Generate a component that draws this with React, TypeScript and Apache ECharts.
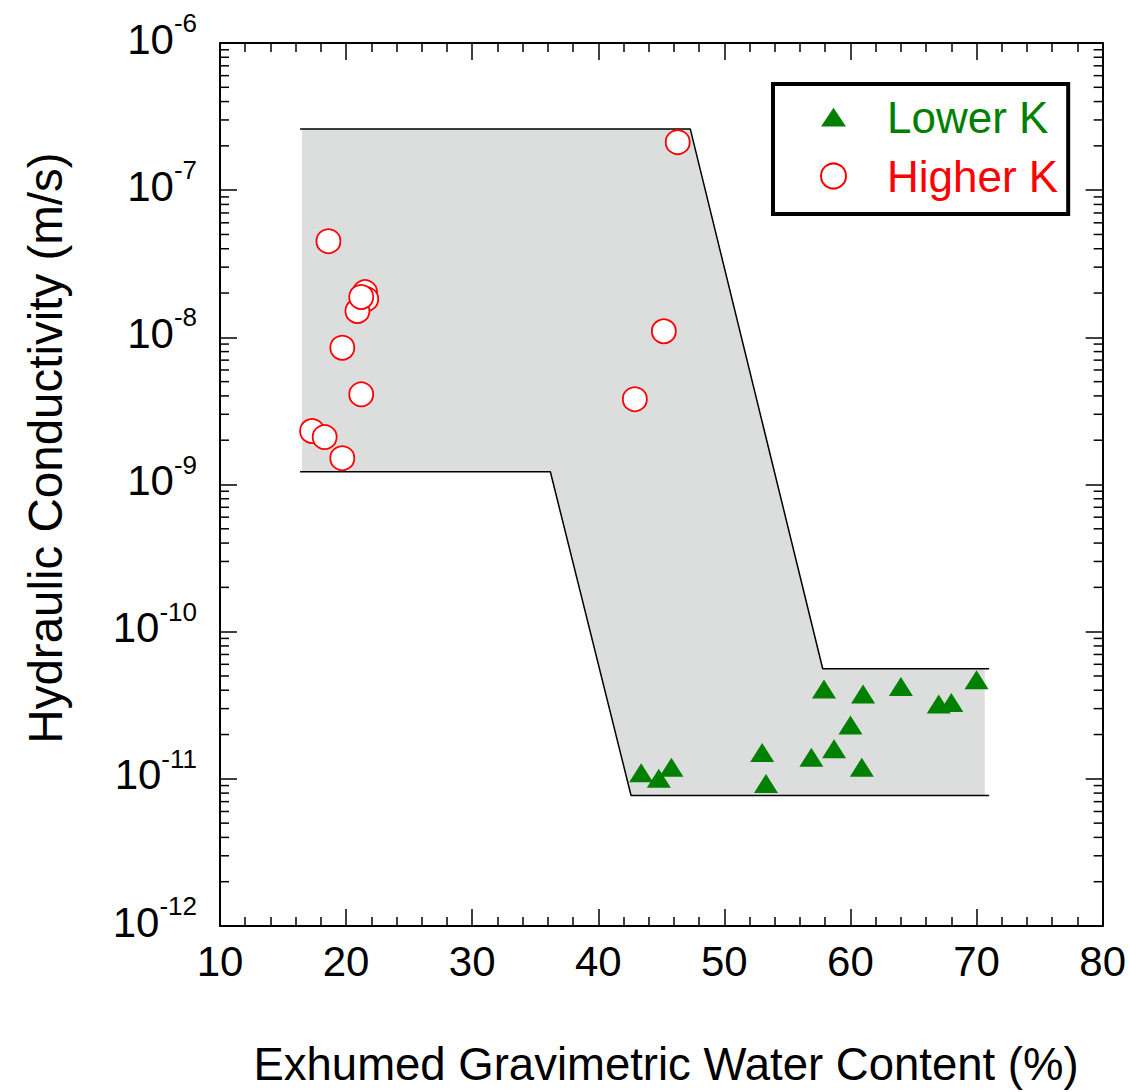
import { useEffect, useRef } from "react";
import * as echarts from "echarts";

// Lower-K specimens: water content (%) and hydraulic conductivity (m/s)
const waterLowerK = [43.4, 44.8, 45.8, 53.0, 53.3, 56.9, 58.7, 57.9, 60.0, 61.0, 60.9, 64.0, 67.0, 68.0, 70.0];
const condLowerK = [1.1e-11, 1.01e-11, 1.2e-11, 1.51e-11, 9.3e-12, 1.4e-11, 1.6e-11, 4.07e-11, 2.32e-11, 3.77e-11, 1.2e-11, 4.24e-11, 3.23e-11, 3.3e-11, 4.71e-11];

// Higher-K specimens
const waterHigherK = [18.6, 21.5, 21.6, 20.9, 21.2, 19.7, 21.2, 17.3, 18.3, 19.7, 42.9, 45.2, 46.3];
const condHigherK = [4.5e-8, 2.03e-8, 1.82e-8, 1.51e-8, 1.88e-8, 8.5e-9, 4.1e-9, 2.31e-9, 2.1e-9, 1.51e-9, 3.8e-9, 1.1e-8, 2.12e-7];

// Envelope boundaries
const upperEdgeW = [16.35, 47.3, 57.8, 71.0];
const upperEdgeK = [2.6e-7, 2.6e-7, 5.6e-11, 5.6e-11];
const lowerEdgeW = [16.35, 36.2, 42.6, 71.0];
const lowerEdgeK = [1.22e-9, 1.22e-9, 7.7e-12, 7.7e-12];

// Shaded band (outline of the envelope)
const bandW = [16.5, 47.3, 57.8, 70.65, 70.65, 42.6, 36.2, 16.5];
const bandK = [2.6e-7, 2.6e-7, 5.6e-11, 5.6e-11, 7.7e-12, 7.7e-12, 1.22e-9, 1.22e-9];

// Axis ranges and minor log ticks
const xMin = 10;
const xMax = 80;
const xStep = 10;
const kMin = 1e-12;
const kMax = 1e-6;
const minorDecades = [-12, -11, -10, -9, -8, -7];
const minorMultipliers = [2, 3, 4, 5, 6, 7, 8, 9];

const FONT = '"Liberation Sans", Arial, Helvetica, sans-serif';
const BLACK = "#000";

const minorValues: number[] = [];
minorDecades.forEach((e) => minorMultipliers.forEach((m) => minorValues.push(m * Math.pow(10, e))));

function xAxisCfg(position: "bottom" | "top", showLabels: boolean) {
  return {
    type: "value",
    position,
    min: xMin,
    max: xMax,
    interval: xStep,
    axisLine: { show: true, onZero: false, lineStyle: { color: BLACK, width: 2 } },
    axisTick: { show: true, inside: true, length: 17, lineStyle: { color: BLACK, width: 1.5 } },
    minorTick: { show: true, splitNumber: 5, length: 9, lineStyle: { color: BLACK, width: 1.5 } },
    splitLine: { show: false },
    minorSplitLine: { show: false },
    axisLabel: {
      show: showLabels,
      fontSize: 42,
      lineHeight: 48,
      color: BLACK,
      fontFamily: FONT,
      margin: 11,
    },
  };
}

function yAxisCfg(position: "left" | "right", showLabels: boolean) {
  return {
    type: "log",
    logBase: 10,
    position,
    min: kMin,
    max: kMax,
    splitNumber: 6,
    axisLine: { show: true, onZero: false, lineStyle: { color: BLACK, width: 2 } },
    axisTick: { show: true, inside: true, length: 17, lineStyle: { color: BLACK, width: 1.5 } },
    splitLine: { show: false },
    axisLabel: {
      show: showLabels,
      margin: 23,
      color: BLACK,
      fontFamily: FONT,
      padding: [0, 0, 8, 0],
      formatter: (v: number) => `{b|10}{s|${Math.round(Math.log10(v))}}`,
      rich: {
        b: { fontSize: 42, lineHeight: 46, color: BLACK, fontFamily: FONT },
        // exponent raised above the base by bottom padding
        s: { fontSize: 26, lineHeight: 46, padding: [0, 0, 32, 0], color: BLACK, fontFamily: FONT },
      },
    },
  };
}

export default function App() {
  const ref = useRef<HTMLDivElement>(null);

  useEffect(() => {
    if (!ref.current) return;
    const chart = echarts.init(ref.current, undefined, { renderer: "svg" });

    chart.setOption({
      animation: false,
      backgroundColor: "#fff",
      grid: { left: 220, right: 25, top: 43, bottom: 166 },
      xAxis: [xAxisCfg("bottom", true), xAxisCfg("top", false)],
      yAxis: [yAxisCfg("left", true), yAxisCfg("right", false)],
      legend: {
        orient: "vertical",
        left: 773,
        top: 84,
        padding: [11, 10, 16, 47],
        itemGap: 15,
        itemWidth: 25,
        itemHeight: 25,
        borderColor: BLACK,
        borderWidth: 4,
        backgroundColor: "#fff",
        selectedMode: false,
        textStyle: { fontSize: 44, lineHeight: 44, fontFamily: FONT, padding: [0, 0, 0, 36] },
        data: [
          { name: "Lower K", icon: "path://M12,0L24,18L0,18Z", textStyle: { color: "#008000" } },
          { name: "Higher K", icon: "circle", textStyle: { color: "#ff0000" } },
        ],
      },
      graphic: [
        {
          type: "text",
          x: 45,
          y: 448,
          rotation: Math.PI / 2,
          style: {
            text: "Hydraulic Conductivity (m/s)",
            fontSize: 47.5,
            fontFamily: FONT,
            fill: BLACK,
            textAlign: "center",
            textVerticalAlign: "middle",
          },
        },
        {
          type: "text",
          x: 666,
          y: 1064,
          style: {
            text: "Exhumed Gravimetric Water Content (%)",
            fontSize: 45.5,
            fontFamily: FONT,
            fill: BLACK,
            textAlign: "center",
            textVerticalAlign: "middle",
          },
        },
      ],
      series: [
        {
          type: "custom",
          name: "band",
          z: 1,
          silent: true,
          data: [[bandW[0], bandK[0]]],
          renderItem: (_params: any, api: any) => ({
            type: "polygon",
            shape: { points: bandW.map((w, i) => api.coord([w, bandK[i]])) },
            style: { fill: "#dcdddd" },
          }),
        },
        {
          type: "line",
          name: "upper edge",
          z: 3,
          silent: true,
          showSymbol: false,
          symbol: "none",
          data: upperEdgeW.map((w, i) => [w, upperEdgeK[i]]),
          lineStyle: { color: BLACK, width: 1.5 },
        },
        {
          type: "line",
          name: "lower edge",
          z: 3,
          silent: true,
          showSymbol: false,
          symbol: "none",
          data: lowerEdgeW.map((w, i) => [w, lowerEdgeK[i]]),
          lineStyle: { color: BLACK, width: 1.5 },
        },
        {
          type: "custom",
          name: "minor ticks",
          z: 4,
          silent: true,
          data: [[20, 1e-9]],
          renderItem: (params: any, api: any) => {
            const cs = params.coordSys;
            const children: any[] = [];
            minorValues.forEach((v) => {
              const y = api.coord([xMin, v])[1];
              children.push({
                type: "line",
                shape: { x1: cs.x, y1: y, x2: cs.x + 9, y2: y },
                style: { stroke: BLACK, lineWidth: 1.5 },
              });
              children.push({
                type: "line",
                shape: { x1: cs.x + cs.width - 9, y1: y, x2: cs.x + cs.width, y2: y },
                style: { stroke: BLACK, lineWidth: 1.5 },
              });
            });
            return { type: "group", children };
          },
        },
        {
          type: "scatter",
          name: "Lower K",
          z: 5,
          symbol: "triangle",
          symbolSize: [24, 19],
          data: waterLowerK.map((w, i) => [w, condLowerK[i]]),
          itemStyle: { color: "#008000", opacity: 1 },
        },
        {
          type: "scatter",
          name: "Higher K",
          z: 6,
          symbol: "circle",
          symbolSize: 24,
          data: waterHigherK.map((w, i) => [w, condHigherK[i]]),
          itemStyle: { color: "#fff", borderColor: "#ff0000", borderWidth: 1.8, opacity: 1 },
        },
      ],
    });

    return () => chart.dispose();
  }, []);

  return (
    <div
      ref={ref}
      style={{ position: "fixed", left: 0, top: 0, width: 1129, height: 1092, background: "#fff" }}
    />
  );
}
